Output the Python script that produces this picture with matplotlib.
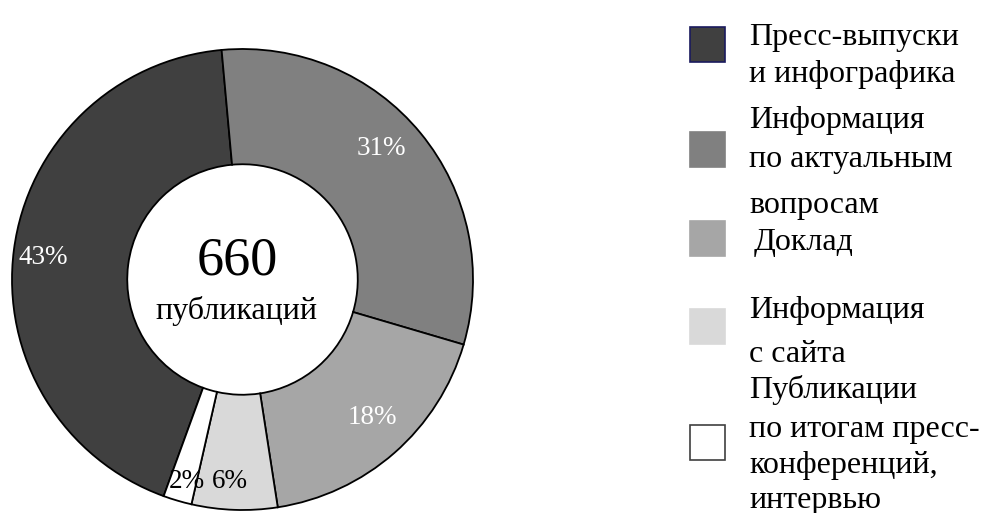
import matplotlib
matplotlib.use("Agg")
import numpy as np
import matplotlib.pyplot as plt
from matplotlib.patches import Rectangle

plt.rcParams['font.family'] = ['Liberation Serif', 'DejaVu Serif']

# ==============================================================================
# data
categories = [
    "Пресс-выпуски\nи инфографика",
    "Информация\nпо актуальным\nвопросам",
    "Доклад",
    "Информация\nс сайта",
    "Публикации\nпо итогам пресс-\nконференций,\nинтервью",
]
shares = [43, 31, 18, 6, 2]
total = 660
total_label = "публикаций"

colors = ["#404040", "#808080", "#a6a6a6", "#d9d9d9", "#ffffff"]
pct_colors = ["white", "white", "white", "black", "black"]
# label placement (radius, angle in degrees) as in the original
pct_pos = [(0.87, 173.8), (0.83, 43.3), (0.82, -46.7), (0.88, -93.5), (0.91, -105.5)]

W, H = 982, 513
fig = plt.figure(figsize=(W / 100, H / 100), dpi=100)

# pie axes: centre (242.5, 279.5) px, radius 230.5 px
cx, cy, r = 242.5, 279.5, 230.5
ax = fig.add_axes([(cx - r) / W, (H - cy - r) / H, 2 * r / W, 2 * r / H])
wedges, texts, autotexts = ax.pie(
    shares,
    colors=colors,
    startangle=250,
    counterclock=False,
    radius=1,
    autopct="%.0f%%",
    pctdistance=0.84,
    wedgeprops=dict(width=0.5, edgecolor="black", linewidth=1.3),
    textprops=dict(fontsize=19.5),
)
for t, c, (rr, ang) in zip(autotexts, pct_colors, pct_pos):
    t.set_color(c)
    t.set_position((rr * np.cos(np.radians(ang)), rr * np.sin(np.radians(ang))))
ax.set_xlim(-1, 1)
ax.set_ylim(-1, 1)
ax.set_aspect("equal")
ax.axis("off")

ax.text(-0.024, 0.08, str(total), ha="center", va="center", fontsize=39)
ax.text(-0.028, -0.171, total_label, ha="center", va="baseline", fontsize=23)

# ==============================================================================
# legend (drawn by hand to follow the original layout)
def fx(x):
    return x / W

def fy(y):
    return 1 - y / H

square_tops = [27, 132, 221, 309, 425]
square_edges = ["#1a1a5e", "#808080", "#a6a6a6", "#d9d9d9", "#404040"]
for top, c, ec in zip(square_tops, colors, square_edges):
    fig.add_artist(Rectangle((fx(690), fy(top + 35)), 35 / W, 35 / H,
                             transform=fig.transFigure, facecolor=c,
                             edgecolor=ec, linewidth=1.2))

line_baselines = [
    [45, 82],
    [128, 167, 213],
    [250],
    [318, 362],
    [398, 437, 473, 508],
]
for label, ys in zip(categories, line_baselines):
    x0 = 754 if label == "Доклад" else 749
    for line, y in zip(label.split("\n"), ys):
        fig.text(fx(x0), fy(y), line, ha="left", va="baseline", fontsize=23)

fig.savefig("out.png", dpi=100)
